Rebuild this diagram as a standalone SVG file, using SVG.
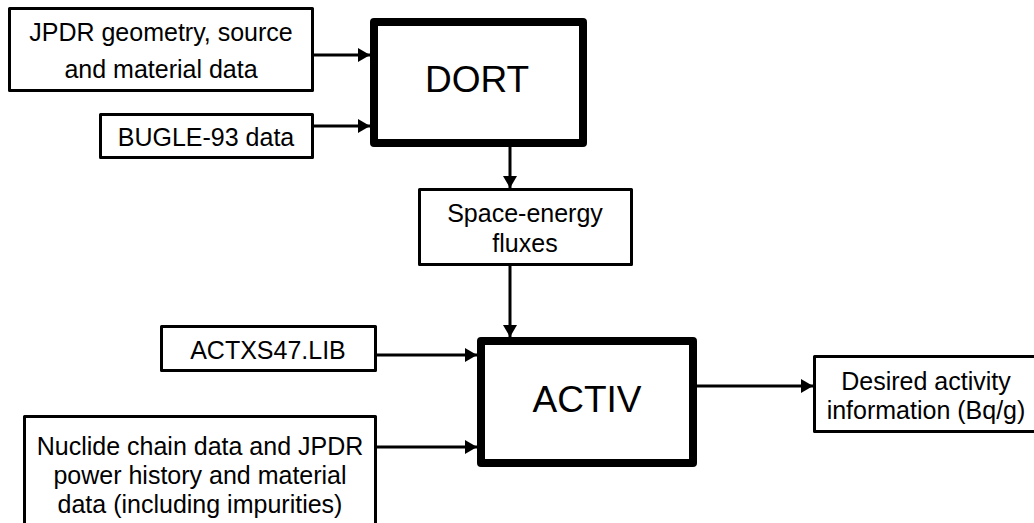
<svg xmlns="http://www.w3.org/2000/svg" width="1034" height="523" viewBox="0 0 1034 523">
<style>
.thin{fill:#fff;stroke:#000;stroke-width:3;stroke-linejoin:round}
.thick{fill:#fff;stroke:#000;stroke-width:8;stroke-linejoin:round}
.t{font-family:"Liberation Sans",Arial,sans-serif;font-size:25px;fill:#000;text-anchor:middle}
.big{font-family:"Liberation Sans",Arial,sans-serif;font-size:37px;fill:#000;text-anchor:middle}
.c{fill:none;stroke:#000;stroke-width:3}
</style>
<defs>
<marker id="ah" markerUnits="userSpaceOnUse" markerWidth="12" markerHeight="14" refX="12" refY="7" orient="auto">
<path d="M0,0 L12,7 L0,14 z" fill="#000"/>
</marker>
</defs>
<g id="connectors">
<line class="c" x1="314" y1="55" x2="370" y2="55" marker-end="url(#ah)"/>
<line class="c" x1="314" y1="126" x2="370" y2="126" marker-end="url(#ah)"/>
<line class="c" x1="510" y1="147" x2="510" y2="188" marker-end="url(#ah)"/>
<line class="c" x1="510" y1="266" x2="510" y2="337" marker-end="url(#ah)"/>
<line class="c" x1="377" y1="355" x2="477" y2="355" marker-end="url(#ah)"/>
<line class="c" x1="377" y1="447" x2="477" y2="447" marker-end="url(#ah)"/>
<line class="c" x1="697" y1="386" x2="813" y2="386" marker-end="url(#ah)"/>
</g>
<g id="jpdr">
<rect class="thin" x="9.5" y="8.5" width="303" height="82"/>
<text class="t" x="161" y="41">JPDR geometry, source</text>
<text class="t" x="161" y="78">and material data</text>
</g>
<g id="bugle">
<rect class="thin" x="100.5" y="114.5" width="212" height="43"/>
<text class="t" x="206" y="146">BUGLE-93 data</text>
</g>
<g id="dort">
<rect class="thick" x="374" y="22" width="209" height="121"/>
<text class="big" x="477" y="92">DORT</text>
</g>
<g id="flux">
<rect class="thin" x="419.5" y="189.5" width="212" height="75"/>
<text class="t" x="525" y="222">Space-energy</text>
<text class="t" x="525" y="252">fluxes</text>
</g>
<g id="actxs">
<rect class="thin" x="161.5" y="326.5" width="214" height="44"/>
<text class="t" x="268" y="359">ACTXS47.LIB</text>
</g>
<g id="nuclide">
<rect class="thin" x="24.5" y="416.5" width="351" height="120"/>
<text class="t" x="200" y="455">Nuclide chain data and JPDR</text>
<text class="t" x="200" y="484">power history and material</text>
<text class="t" x="200" y="513">data (including impurities)</text>
</g>
<g id="activ">
<rect class="thick" x="481" y="341" width="212" height="122"/>
<text class="big" x="587" y="412">ACTIV</text>
</g>
<g id="desired">
<rect class="thin" x="814.5" y="356.5" width="224" height="75"/>
<text class="t" x="926" y="390">Desired activity</text>
<text class="t" x="926" y="419">information (Bq/g)</text>
</g>
</svg>
